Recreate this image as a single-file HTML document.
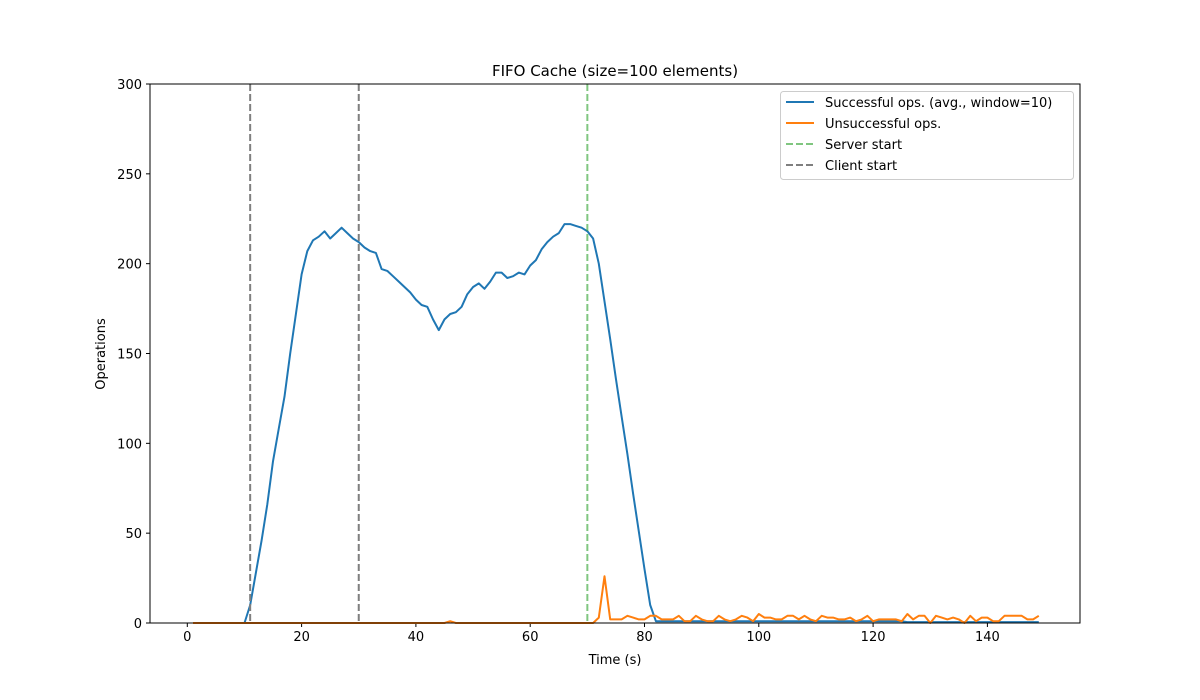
<!DOCTYPE html>
<html><head><meta charset="utf-8"><style>
body{margin:0;background:#fff}
svg{display:block;font-family:"DejaVu Sans","Liberation Sans",sans-serif}
</style></head><body>
<svg id="chart" width="1200" height="700"></svg>
<script>
const successOps=[0,0,0,0,0,0,0,0,0,0,10,28,46,66,90,108,126,150,172,194,207,213,215,218,214,217,220,217,214,212,209,207,206,197,196,193,190,187,184,180,177,176,169,163,169,172,173,176,183,187,189,186,190,195,195,192,193,195,194,199,202,208,212,215,217,222,222,221,220,218,214,200,179,158,136,115,94,72,51,30,10,1];
const failOps=[0,0,0,0,0,0,0,0,0,0,0,0,0,0,0,0,0,0,0,0,0,0,0,0,0,0,0,0,0,0,0,0,0,0,0,0,0,0,0,0,0,0,0,0,0,1,0,0,0,0,0,0,0,0,0,0,0,0,0,0,0,0,0,0,0,0,0,0,0,0,0,3,26,2,2,2,4,3,2,2,4,4,2,2,2,4,1,1,4,2,1,1,4,2,1,2,4,3,1,5,3,3,2,2,4,4,2,4,2,1,4,3,3,2,2,3,1,2,4,1,2,2,2,2,1,5,2,4,4,0,4,3,2,3,2,0,4,1,3,3,1,1,4,4,4,4,2,2,4];
while(successOps.length<149){successOps.push(successOps.length<125?1:0.5);}
const xTicks=[0,20,40,60,80,100,120,140];
const yTicks=[0,50,100,150,200,250,300];
const serverStart=[70];
const clientStart=[11,30];
const L=150,R=1080,T=84,B=623;
const xs=t=>187.3+t*5.715;
const ys=v=>B-v*(B-T)/300;
const svg=document.getElementById('chart');
const NS='http://www.w3.org/2000/svg';
function mk(tag,attrs,text){const e=document.createElementNS(NS,tag);for(const k in attrs)e.setAttribute(k,attrs[k]);if(text!==undefined)e.textContent=text;svg.appendChild(e);return e;}
let e;
e=mk('text',{x:615,y:76,'text-anchor':'middle','font-size':15},'FIFO Cache (size=100 elements)');


xTicks.forEach(t=>{
 e=mk('line',{x1:xs(t),x2:xs(t),y1:B,y2:B+4,stroke:'#000'});
 
 
 e=mk('text',{x:xs(t),y:B+18,'text-anchor':'middle','font-size':13},String(t));
 
 
});
yTicks.forEach(v=>{
 e=mk('line',{x1:L-4,x2:L,y1:ys(v),y2:ys(v),stroke:'#000'});
 
 
 e=mk('text',{x:L-8,y:ys(v)+5,'text-anchor':'end','font-size':13},String(v));
 
 
});
e=mk('text',{x:615,y:664,'text-anchor':'middle','font-size':13},'Time (s)');


e=mk('text',{x:105,y:354,'text-anchor':'middle','font-size':13,transform:'rotate(-90 105 354)'},'Operations');


const pts=a=>a.map((v,i)=>xs(i+1).toFixed(1)+','+ys(v).toFixed(1)).join(' ');
e=mk('polyline',{points:pts(successOps),fill:'none',stroke:'#1f77b4','stroke-width':2,'stroke-linejoin':'round'});


e=mk('polyline',{points:pts(failOps),fill:'none',stroke:'#ff7f0e','stroke-width':2,'stroke-linejoin':'round'});


serverStart.forEach(t=>{
 e=mk('line',{x1:xs(t),x2:xs(t),y1:T,y2:B,stroke:'#2ca02c','stroke-opacity':0.6,'stroke-width':2,'stroke-dasharray':'7,3'});
 
 
});
clientStart.forEach(t=>{
 e=mk('line',{x1:xs(t),x2:xs(t),y1:T,y2:B,stroke:'#7f7f7f','stroke-width':2,'stroke-dasharray':'7,3'});
 
 
});
e=mk('rect',{x:L,y:T,width:R-L,height:B-T,fill:'none',stroke:'#000','stroke-width':1});


e=mk('rect',{x:780.5,y:91.5,width:293,height:88,rx:3,fill:'#fff','fill-opacity':0.8,stroke:'#ccc'});


const legendLabels=['Successful ops. (avg., window=10)','Unsuccessful ops.','Server start','Client start'];
const legendStyles=[['#1f77b4',''],['#ff7f0e',''],['rgba(44,160,44,0.6)','7,3'],['#7f7f7f','7,3']];
legendLabels.forEach((lab,i)=>{
 const y=102+i*21;
 e=mk('line',{x1:786,x2:814,y1:y,y2:y,stroke:legendStyles[i][0],'stroke-width':2,'stroke-dasharray':legendStyles[i][1]||'none'});
 
 
 e=mk('text',{x:825,y:y+5,'font-size':13},lab);
 
 
});
</script>
</body></html>
